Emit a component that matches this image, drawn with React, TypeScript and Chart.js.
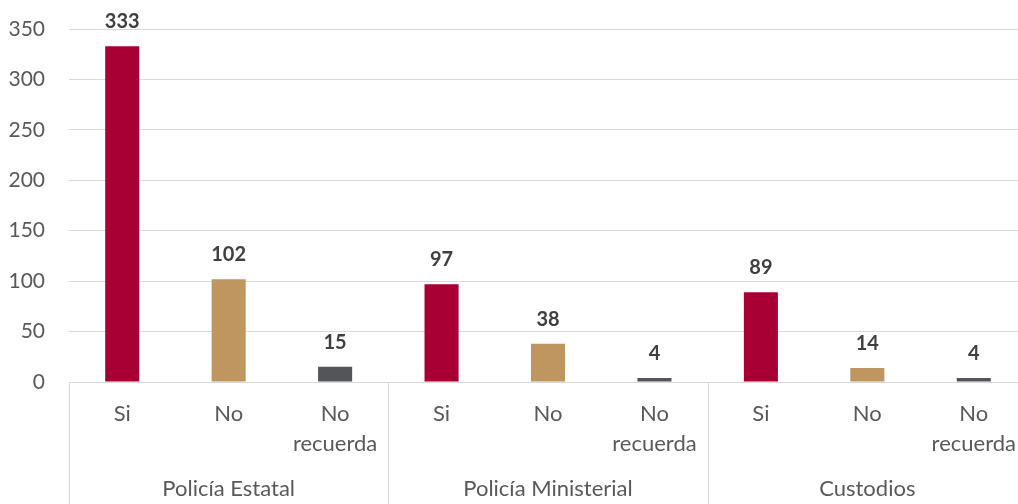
import React, { useEffect, useRef } from "react";
import { Chart, registerables } from "chart.js";

Chart.register(...registerables);

const groups = ["Policía Estatal", "Policía Ministerial", "Custodios"];
const answers: (string | string[])[] = ["Si", "No", ["No", "recuerda"]];
const values = [333, 102, 15, 97, 38, 4, 89, 14, 4];
const barColors = ["#A80034", "#BF9660", "#54555A"];
const yTicks = [0, 50, 100, 150, 200, 250, 300, 350];

const FONT = "Lato, 'Open Sans', sans-serif";

export default function App() {
  const ref = useRef<HTMLCanvasElement | null>(null);

  useEffect(() => {
    document.body.style.overflow = "hidden";
    const labels: (string | string[])[] = [];
    groups.forEach(() => answers.forEach((a) => labels.push(a)));
    const colors = values.map((_, i) => barColors[i % 3]);

    const overlay = {
      id: "overlay",
      afterDraw(chart: any) {
        const { ctx, chartArea } = chart;
        const catW = (chartArea.right - chartArea.left) / labels.length;
        ctx.save();
        ctx.strokeStyle = "#D9D9D9";
        ctx.lineWidth = 1;
        for (let k = 0; k <= groups.length; k++) {
          const px = Math.round(chartArea.left + k * 3 * catW) + 0.5;
          ctx.beginPath();
          ctx.moveTo(px, chartArea.bottom);
          ctx.lineTo(px, chart.height);
          ctx.stroke();
        }
        ctx.fillStyle = "#595959";
        ctx.font = `22px ${FONT}`;
        ctx.textAlign = "center";
        ctx.textBaseline = "middle";
        groups.forEach((g, k) => {
          const cx = chartArea.left + (k * 3 + 1.5) * catW;
          ctx.fillText(g, cx, 489);
        });
        const meta = chart.getDatasetMeta(0);
        ctx.fillStyle = "#404040";
        ctx.font = `bold 20px ${FONT}`;
        ctx.textBaseline = "alphabetic";
        meta.data.forEach((bar: any, i: number) => {
          ctx.fillText(String(values[i]), bar.x, bar.y - 18);
        });
        ctx.restore();
      },
    };

    const chart = new Chart(ref.current as HTMLCanvasElement, {
      type: "bar",
      data: {
        labels,
        datasets: [
          {
            data: values,
            backgroundColor: colors,
            barPercentage: 0.32,
            categoryPercentage: 1,
          },
        ],
      },
      options: {
        animation: false,
        responsive: false,
        layout: { padding: { top: 29, right: 1, bottom: 0, left: 0 } },
        plugins: { legend: { display: false }, tooltip: { enabled: false } },
        scales: {
          x: {
            grid: { display: false },
            border: { display: false },
            ticks: {
              color: "#595959",
              font: { family: FONT, size: 22, lineHeight: 1.36 },
              padding: 9,
              maxRotation: 0,
              autoSkip: false,
            },
            afterFit: (s: any) => {
              s.height = 122;
            },
          },
          y: {
            min: 0,
            max: 350,
            afterBuildTicks: (s: any) => {
              s.ticks = yTicks.map((v) => ({ value: v }));
            },
            grid: { color: "#D9D9D9", drawTicks: false },
            border: { display: false },
            ticks: {
              color: "#595959",
              font: { family: FONT, size: 21 },
              padding: 24,
            },
            afterFit: (s: any) => {
              s.width = 69;
              s.paddingTop = 0;
              s.paddingBottom = 0;
            },
          },
        },
      },
      plugins: [overlay],
    });
    return () => chart.destroy();
  }, []);

  return (
    <div style={{ position: "fixed", left: 0, top: 0, width: 1028, height: 504, background: "#fff" }}>
      <canvas ref={ref} width={1028} height={504} style={{ display: "block" }} />
    </div>
  );
}
